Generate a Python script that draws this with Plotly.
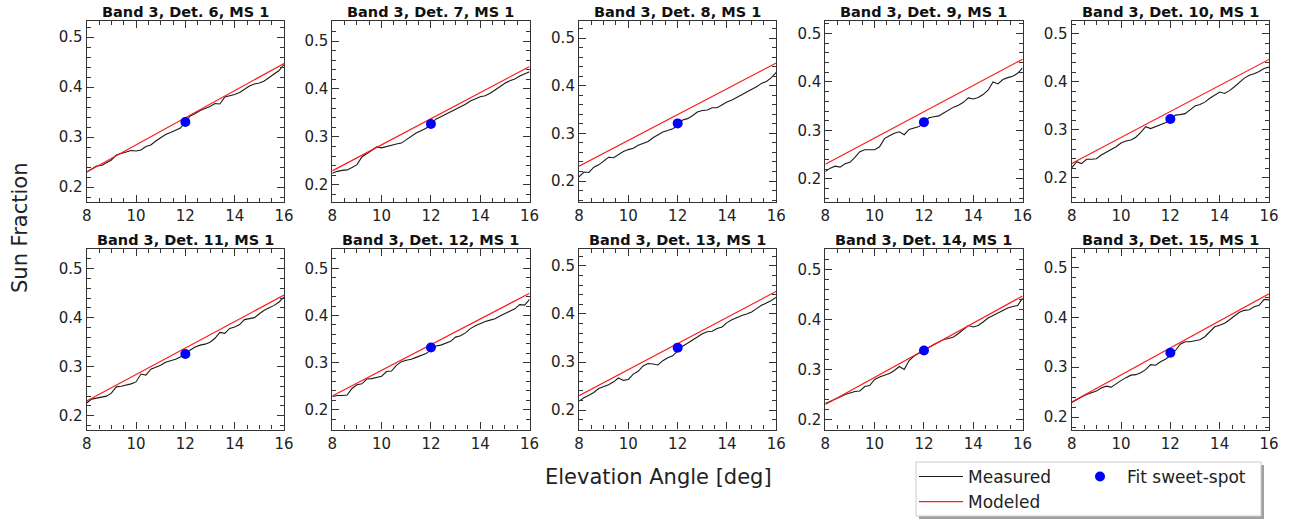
import plotly.graph_objects as go
from plotly.subplots import make_subplots

# ---------------- data ----------------
elevation = [8.0, 8.2, 8.4, 8.6, 8.8, 9.0, 9.2, 9.4, 9.6, 9.8,
             10.0, 10.2, 10.4, 10.6, 10.8, 11.0, 11.2, 11.4, 11.6, 11.8,
             12.0, 12.2, 12.4, 12.6, 12.8, 13.0, 13.2, 13.4, 13.6, 13.8,
             14.0, 14.2, 14.4, 14.6, 14.8, 15.0, 15.2, 15.4, 15.6, 15.8, 16.0]

detectors = [6, 7, 8, 9, 10, 11, 12, 13, 14, 15]

measured_det6 = [0.230, 0.236, 0.242, 0.243, 0.249, 0.254, 0.264, 0.267, 0.270, 0.273,
                 0.272, 0.274, 0.281, 0.284, 0.292, 0.299, 0.305, 0.309, 0.313, 0.318,
                 0.330, 0.342, 0.347, 0.353, 0.357, 0.361, 0.367, 0.366, 0.380, 0.382,
                 0.385, 0.389, 0.396, 0.402, 0.406, 0.408, 0.412, 0.419, 0.425, 0.433, 0.445]
measured_det7 = [0.224, 0.228, 0.230, 0.231, 0.236, 0.242, 0.258, 0.265, 0.273, 0.279,
                 0.277, 0.280, 0.282, 0.285, 0.287, 0.294, 0.301, 0.308, 0.313, 0.318,
                 0.326, 0.337, 0.342, 0.347, 0.352, 0.358, 0.362, 0.368, 0.375, 0.380,
                 0.384, 0.386, 0.391, 0.398, 0.405, 0.412, 0.417, 0.421, 0.427, 0.431, 0.436]
measured_det8 = [0.209, 0.219, 0.218, 0.229, 0.234, 0.243, 0.250, 0.249, 0.255, 0.262,
                 0.266, 0.269, 0.275, 0.279, 0.283, 0.291, 0.297, 0.303, 0.306, 0.310,
                 0.316, 0.328, 0.331, 0.337, 0.345, 0.348, 0.349, 0.354, 0.354, 0.360,
                 0.366, 0.370, 0.375, 0.381, 0.387, 0.392, 0.398, 0.405, 0.409, 0.417, 0.428]
measured_det9 = [0.215, 0.222, 0.226, 0.224, 0.231, 0.234, 0.244, 0.256, 0.260, 0.260,
                 0.260, 0.266, 0.283, 0.289, 0.294, 0.297, 0.291, 0.302, 0.305, 0.308,
                 0.315, 0.326, 0.328, 0.330, 0.336, 0.342, 0.348, 0.352, 0.358, 0.367,
                 0.365, 0.368, 0.374, 0.383, 0.400, 0.396, 0.405, 0.409, 0.412, 0.418, 0.429]
measured_det10 = [0.221, 0.234, 0.230, 0.239, 0.239, 0.240, 0.248, 0.254, 0.259, 0.265,
                  0.273, 0.277, 0.279, 0.285, 0.295, 0.307, 0.303, 0.307, 0.310, 0.315,
                  0.320, 0.331, 0.332, 0.334, 0.342, 0.350, 0.353, 0.358, 0.366, 0.372,
                  0.379, 0.376, 0.382, 0.390, 0.400, 0.408, 0.414, 0.417, 0.422, 0.428, 0.431]
measured_det11 = [0.226, 0.234, 0.236, 0.238, 0.240, 0.246, 0.259, 0.260, 0.262, 0.265,
                  0.269, 0.285, 0.283, 0.295, 0.299, 0.303, 0.309, 0.312, 0.315, 0.320,
                  0.325, 0.334, 0.340, 0.344, 0.346, 0.350, 0.358, 0.370, 0.368, 0.378,
                  0.381, 0.386, 0.396, 0.398, 0.400, 0.408, 0.415, 0.420, 0.425, 0.432, 0.442]
measured_det12 = [0.228, 0.230, 0.230, 0.231, 0.245, 0.253, 0.255, 0.265, 0.266, 0.268,
                  0.271, 0.281, 0.282, 0.294, 0.302, 0.305, 0.307, 0.311, 0.315, 0.319,
                  0.327, 0.335, 0.337, 0.341, 0.345, 0.354, 0.357, 0.363, 0.372, 0.378,
                  0.383, 0.387, 0.390, 0.393, 0.399, 0.404, 0.410, 0.414, 0.423, 0.422, 0.434]
measured_det13 = [0.219, 0.226, 0.231, 0.237, 0.245, 0.249, 0.253, 0.259, 0.267, 0.262,
                  0.264, 0.275, 0.281, 0.292, 0.297, 0.296, 0.294, 0.303, 0.309, 0.313,
                  0.323, 0.333, 0.339, 0.345, 0.352, 0.359, 0.363, 0.364, 0.370, 0.373,
                  0.382, 0.388, 0.393, 0.397, 0.400, 0.404, 0.411, 0.418, 0.423, 0.428, 0.435]
measured_det14 = [0.232, 0.236, 0.241, 0.245, 0.250, 0.253, 0.256, 0.257, 0.266, 0.268,
                  0.280, 0.285, 0.288, 0.292, 0.298, 0.306, 0.300, 0.318, 0.327, 0.333,
                  0.338, 0.345, 0.350, 0.355, 0.360, 0.362, 0.365, 0.372, 0.381, 0.388,
                  0.385, 0.388, 0.395, 0.403, 0.408, 0.413, 0.418, 0.423, 0.426, 0.428, 0.443]
measured_det15 = [0.229, 0.235, 0.240, 0.245, 0.249, 0.252, 0.258, 0.262, 0.260, 0.267,
                  0.273, 0.279, 0.284, 0.285, 0.289, 0.295, 0.305, 0.304, 0.311, 0.316,
                  0.323, 0.333, 0.346, 0.351, 0.351, 0.353, 0.355, 0.361, 0.370, 0.381,
                  0.384, 0.388, 0.395, 0.403, 0.410, 0.414, 0.415, 0.421, 0.424, 0.436, 0.435]

measured = [measured_det6, measured_det7, measured_det8, measured_det9, measured_det10,
            measured_det11, measured_det12, measured_det13, measured_det14, measured_det15]

modeled_x = [8.0, 16.0]
modeled_start = [0.230, 0.229, 0.231, 0.230, 0.230, 0.230, 0.229, 0.230, 0.230, 0.230]
modeled_end = [0.447, 0.447, 0.448, 0.447, 0.447, 0.446, 0.447, 0.447, 0.447, 0.447]

sweet_spot_x = 12.0
sweet_spot_y = [0.330, 0.327, 0.321, 0.317, 0.323, 0.326, 0.332, 0.330, 0.338, 0.329]

y_ranges = [[0.170, 0.532], [0.164, 0.542], [0.156, 0.536], [0.152, 0.526], [0.150, 0.527],
            [0.172, 0.541], [0.158, 0.542], [0.160, 0.536], [0.180, 0.542], [0.175, 0.538]]
x_range = [8, 16]

# ---------------- figure ----------------
W, H = 1293, 523
FONT = "DejaVu Sans"
fig = make_subplots(rows=2, cols=5)

x_left = [86.7, 332.3, 579.0, 825.3, 1071.7]
panel_w = 197.3
row_top = [21.0, 248.5]
panel_h = 181.0

annotations = []
for i, det in enumerate(detectors):
    r, c = i // 5, i % 5
    n = i + 1
    xa = "xaxis" if n == 1 else f"xaxis{n}"
    ya = "yaxis" if n == 1 else f"yaxis{n}"
    x0 = x_left[c] / W
    x1 = (x_left[c] + panel_w) / W
    y1 = 1 - row_top[r] / H
    y0 = 1 - (row_top[r] + panel_h) / H

    fig.add_trace(go.Scatter(x=elevation, y=measured[i], mode="lines",
                             line=dict(color="#1a1a1a", width=1.1),
                             name="Measured", showlegend=(i == 0), legend="legend",
                             legendrank=1),
                  row=r + 1, col=c + 1)
    fig.add_trace(go.Scatter(x=modeled_x, y=[modeled_start[i], modeled_end[i]], mode="lines",
                             line=dict(color="#ff1a1a", width=1.2),
                             name="Modeled", showlegend=(i == 0), legend="legend",
                             legendrank=2),
                  row=r + 1, col=c + 1)
    fig.add_trace(go.Scatter(x=[sweet_spot_x], y=[sweet_spot_y[i]], mode="markers",
                             marker=dict(color="#0000ff", size=10),
                             name="Fit sweet-spot", showlegend=(i == 0), legend="legend2"),
                  row=r + 1, col=c + 1)

    axis_common = dict(showline=True, linecolor="#333333", linewidth=1.1, mirror="allticks",
                       ticks="inside", ticklen=7, tickwidth=1.1, tickcolor="#333333",
                       showgrid=False, zeroline=False, automargin=False,
                       tickfont=dict(family=FONT, size=15, color="#222222"))
    fig.layout[xa].update(domain=[x0, x1], range=x_range, dtick=2, tick0=0,
                          minor=dict(ticks="inside", ticklen=4, dtick=0.5, tick0=0,
                                     tickcolor="#333333", tickwidth=1, showgrid=False),
                          **axis_common)
    fig.layout[ya].update(domain=[y0, y1], range=y_ranges[i], dtick=0.1, tick0=0,
                          minor=dict(ticks="inside", ticklen=4, dtick=0.02, tick0=0,
                                     tickcolor="#333333", tickwidth=1, showgrid=False),
                          **axis_common)
    annotations.append(dict(text=f"<b>Band 3, Det. {det}, MS 1</b>", x=(x0 + x1) / 2, y=y1,
                            xref="paper", yref="paper", xanchor="center", yanchor="bottom",
                            yshift=-1, showarrow=False,
                            font=dict(family=FONT, size=14.5, color="#111111")))

annotations.append(dict(text="Sun Fraction", x=20 / W, y=1 - 228 / H, xref="paper", yref="paper",
                        textangle=-90, showarrow=False, xanchor="center", yanchor="middle",
                        font=dict(family=FONT, size=21, color="#222222")))
annotations.append(dict(text="Elevation Angle [deg]", x=658.5 / W, y=1 - 477 / H, xref="paper",
                        yref="paper", showarrow=False, xanchor="center", yanchor="middle",
                        font=dict(family=FONT, size=21, color="#222222")))

# legend box (with shadow)
bx0, bx1, by0, by1 = 916, 1261, 462, 516
shapes = [
    dict(type="rect", xref="paper", yref="paper", x0=(bx0 + 3) / W, x1=(bx1 + 3) / W,
         y0=1 - (by1 + 3) / H, y1=1 - (by0 + 3) / H, fillcolor="#a0a0a0",
         line=dict(width=0), layer="above"),
    dict(type="rect", xref="paper", yref="paper", x0=bx0 / W, x1=bx1 / W,
         y0=1 - by1 / H, y1=1 - by0 / H, fillcolor="white",
         line=dict(color="#cccccc", width=1), layer="above"),
]

fig.update_layout(
    width=W, height=H,
    margin=dict(l=0, r=0, t=0, b=0, autoexpand=False),
    paper_bgcolor="white", plot_bgcolor="white",
    font=dict(family=FONT, color="#222222"),
    annotations=annotations,
    shapes=shapes,
    legend=dict(x=914 / W, y=1 - 459 / H, xanchor="left", yanchor="top",
                xref="container", yref="container", itemwidth=44,
                bgcolor="rgba(0,0,0,0)", borderwidth=0, orientation="v",
                font=dict(family=FONT, size=17, color="#222222"), tracegroupgap=0),
    legend2=dict(x=1073 / W, y=1 - 459 / H, xanchor="left", yanchor="top",
                 xref="container", yref="container", itemwidth=44,
                 bgcolor="rgba(0,0,0,0)", borderwidth=0, orientation="v",
                 font=dict(family=FONT, size=17, color="#222222")),
)

fig.write_html("out.html", config={"displayModeBar": False},
               post_script="document.body.style.margin='0';document.body.style.padding='0';"
                           "document.body.style.overflow='hidden';")
